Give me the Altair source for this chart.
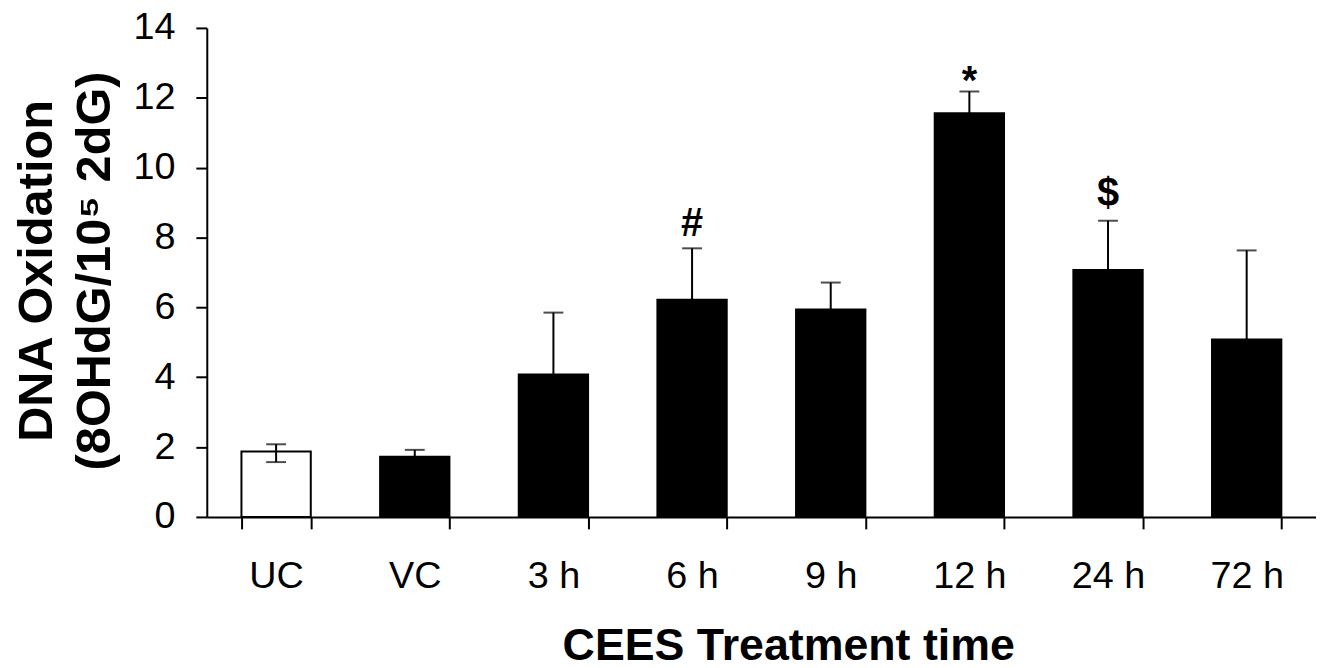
import altair as alt
import pandas as pd

categories = ["UC", "VC", "3 h", "6 h", "9 h", "12 h", "24 h", "72 h"]
means = [1.87, 1.72, 4.08, 6.22, 5.94, 11.56, 7.07, 5.08]
upper = [2.08, 1.92, 5.85, 7.69, 6.71, 12.18, 8.48, 7.63]
lower = [1.57, 1.72, 4.08, 6.22, 5.94, 11.56, 7.07, 5.08]

ann_cats = ["6 h", "12 h", "24 h"]
ann_marks = ["#", "*", "$"]
ann_dy = {"#": -12, "*": 3, "$": -15}

y_ticks = [0, 2, 4, 6, 8, 10, 12, 14]

df = pd.DataFrame({"cat": categories, "mean": means, "upper": upper, "lower": lower})
ann_df = pd.DataFrame({
    "cat": ann_cats,
    "mark": ann_marks,
    "upper": [upper[categories.index(c)] for c in ann_cats],
})

FONT = "Liberation Sans"

x_enc = alt.X(
    "cat:N",
    sort=categories,
    scale=alt.Scale(paddingInner=0.5, paddingOuter=0.25),
    axis=alt.Axis(
        title="CEES Treatment time",
        titleFont=FONT,
        titleFontSize=45,
        titleFontWeight="bold",
        titleColor="black",
        titleAngle=0,
        titleAlign="center",
        titleBaseline="alphabetic",
        titleX=585,
        titleY=143,
        labelFont=FONT,
        labelFontSize=38,
        labelColor="black",
        labelAngle=0,
        labelPadding=29,
        tickBand="extent",
        tickSize=12,
        tickWidth=2,
        tickColor="black",
        domainColor="black",
        domainWidth=2,
        grid=False,
    ),
)

y_axis = alt.Axis(
    values=y_ticks,
    format="d",
    title=["DNA Oxidation", "(8OHdG/10\u2075 2dG)"],
    titleFont=FONT,
    titleFontSize=49,
    titleFontWeight="bold",
    titleColor="black",
    titleAngle=270,
    titleAlign="center",
    titleBaseline="alphabetic",
    titleLineHeight=58,
    titleX=-156,
    titleY=244,
    labelFont=FONT,
    labelFontSize=38,
    labelColor="black",
    labelPadding=21,
    tickSize=11,
    tickWidth=2,
    tickColor="black",
    domainColor="black",
    domainWidth=2,
    grid=False,
)

base = alt.Chart(df)

bars = base.mark_bar(stroke="black", strokeWidth=2).encode(
    x=x_enc,
    y=alt.Y("mean:Q", scale=alt.Scale(domain=[0, 14]), axis=y_axis),
    fill=alt.condition("datum.cat == 'UC'", alt.value("white"), alt.value("black")),
)

rules = base.mark_rule(color="black", strokeWidth=2).encode(
    x=alt.X("cat:N", sort=categories),
    y=alt.Y("lower:Q"),
    y2="upper:Q",
)

caps_top = base.mark_tick(color="black", thickness=2, size=20).encode(
    x=alt.X("cat:N", sort=categories),
    y=alt.Y("upper:Q"),
)

caps_bottom = base.transform_filter("datum.lower < datum.mean").mark_tick(
    color="black", thickness=2, size=20
).encode(
    x=alt.X("cat:N", sort=categories),
    y=alt.Y("lower:Q"),
)

layers = [bars, rules, caps_top, caps_bottom]
for m in ann_marks:
    layers.append(
        alt.Chart(ann_df)
        .transform_filter(alt.datum.mark == m)
        .mark_text(
            font=FONT,
            fontSize=40,
            fontWeight="bold",
            color="black",
            baseline="alphabetic",
            align="center",
            dy=ann_dy[m],
        )
        .encode(
            x=alt.X("cat:N", sort=categories),
            y=alt.Y("upper:Q"),
            text="mark:N",
        )
    )

chart = (
    alt.layer(*layers)
    .properties(
        width=1116,
        height=492,
        autosize=alt.AutoSizeParams(type="none"),
        padding={"left": 200, "top": 18, "right": 0, "bottom": 160},
    )
    .configure_view(stroke=None)
)

chart.save("out.html", embed_options={"renderer": "svg", "actions": False})
